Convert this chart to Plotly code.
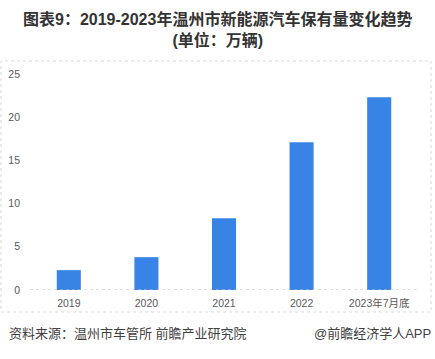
import plotly.graph_objects as go

categories = ["2019", "2020", "2021", "2022", "2023年7月底"]
values = [2.3, 3.8, 8.3, 17.1, 22.3]
y_ticks = [0, 5, 10, 15, 20, 25]

W, H = 435, 359
fig = go.Figure(go.Bar(x=categories, y=values, marker_color="#3884e6",
                       marker_line_width=0, hoverinfo="skip"))

font_cjk = "Liberation Sans, Arial, Noto Sans CJK SC, sans-serif"

fig.update_layout(
    width=W, height=H,
    margin=dict(l=30, r=17, t=74, b=69),
    paper_bgcolor="white", plot_bgcolor="white",
    bargap=0.69,
    showlegend=False,
    font=dict(family=font_cjk, color="#595959", size=10),
    xaxis=dict(showgrid=False, showline=False, ticks="", zeroline=False, automargin=False,
               tickfont=dict(size=10.5, color="#595959"), ticklabelstandoff=5),
    yaxis=dict(range=[0, 25], tickvals=y_ticks, showgrid=False, zeroline=False,
               showline=False, tickfont=dict(size=10.5, color="#595959"), ticks="",
               ticklabelstandoff=9, automargin=False),
)

# dotted baseline
fig.add_shape(type="line", xref="paper", yref="y", x0=0, x1=1, y0=0, y1=0,
              line=dict(color="#bfbfbf", width=1, dash="dot"))

# outer border box
fig.add_shape(type="rect", xref="paper", yref="paper",
              x0=(1 - 30) / (W - 47), x1=(431 - 30) / (W - 47),
              y0=(H - 69 - 312) / (H - 143), y1=(H - 69 - 61) / (H - 143),
              line=dict(color="#d9d9d9", width=1, dash="dot"), layer="below")

fig.add_annotation(text="<b>图表9：2019-2023年温州市新能源汽车保有量变化趋势<br>(单位：万辆)</b>",
                   xref="paper", yref="paper", x=(217 - 30) / (W - 47), y=(H - 69 - 8) / (H - 143),
                   xanchor="center", yanchor="top", showarrow=False, align="center",
                   font=dict(size=16, color="#333333", family=font_cjk))

fig.add_annotation(text="资料来源：温州市车管所 前瞻产业研究院",
                   xref="paper", yref="paper", x=(7 - 30) / (W - 47), y=(H - 69 - 333) / (H - 143),
                   xanchor="left", yanchor="middle", showarrow=False,
                   font=dict(size=13, color="#404040", family=font_cjk))
fig.add_annotation(text="@前瞻经济学人APP",
                   xref="paper", yref="paper", x=(433 - 30) / (W - 47), y=(H - 69 - 333) / (H - 143),
                   xanchor="right", yanchor="middle", showarrow=False,
                   font=dict(size=13, color="#404040", family=font_cjk))

fig.write_html("out.html")
